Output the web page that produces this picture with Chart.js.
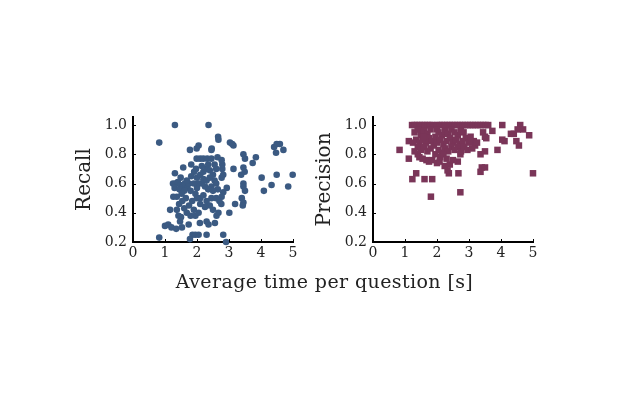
<!DOCTYPE html>
<html>
<head>
<meta charset="utf-8">
<script src="https://cdn.jsdelivr.net/npm/chart.js@4/dist/chart.umd.min.js"></script>
<style>
  body { margin:0; background:#fff; }
  #wrap { position:relative; width:624px; height:400px; overflow:hidden; }
  canvas { position:absolute; top:0; }
  #xtitle { position:absolute; left:0; width:649px; top:270px; text-align:center;
            font-family:"DejaVu Serif", serif; font-size:19px; letter-spacing:0.4px; color:#222; }
</style>
</head>
<body>
<div id="wrap">
  <canvas id="recall" width="312" height="400" style="left:0px;width:312px;height:400px"></canvas>
  <canvas id="precision" width="312" height="400" style="left:240px;width:312px;height:400px"></canvas>
  <div id="xtitle">Average time per question [s]</div>
</div>
<script>
// data
const xTicks = [0, 1, 2, 3, 4, 5];
const yTicks = [0.2, 0.4, 0.6, 0.8, 1.0];

const recallTime = [
  0.82,1.31,2.36,0.82,2.66,2.67,3.03,3.10,3.14,2.46,2.05,1.99,1.78,2.45,2.64,3.45,3.50,3.84,3.74,4.41,
  4.49,4.59,4.70,4.47,3.14,3.45,3.49,3.38,4.02,4.49,4.99,4.09,4.33,4.85,3.45,3.45,3.50,3.40,3.45,3.43,
  3.19,3.01,2.82,2.93,2.77,2.76,2.61,2.67,2.56,2.82,2.91,
  1.99,2.10,2.20,2.32,2.45,2.79,2.79,2.77,2.77,2.82,
  1.82,1.97,1.91,1.57,1.31,1.49,1.82,1.25,1.33,1.40,1.48,1.55,1.62,1.70,1.30,1.45,1.60,1.75,1.68,1.52,
  1.65,1.37,1.26,1.44,1.54,1.16,1.37,1.42,1.50,1.47,1.74,2.09,1.00,1.10,1.20,1.35,1.53,2.30,2.36,1.86,
  1.95,2.05,2.30,1.78,1.60,1.75,1.85,1.90,1.95,2.05,1.80,1.68,
  2.00,2.10,2.20,2.30,2.40,2.50,2.55,2.45,2.35,2.25,2.15,2.05,2.20,2.30,2.40,2.60,2.65,2.50,2.60,2.55,
  2.35,2.15,2.00,1.95,2.10,2.20,2.30,2.45,2.60,2.40,2.25,2.10,1.90,1.80,2.00,2.70,2.50
];
const recallValue = [
  0.88,1.00,1.00,0.23,0.92,0.90,0.88,0.87,0.86,0.84,0.86,0.84,0.83,0.83,0.78,0.80,0.77,0.78,0.74,0.85,
  0.87,0.87,0.83,0.81,0.70,0.71,0.68,0.66,0.64,0.66,0.66,0.55,0.59,0.58,0.60,0.58,0.55,0.50,0.47,0.45,
  0.46,0.40,0.54,0.57,0.51,0.46,0.38,0.40,0.33,0.25,0.20,
  0.77,0.77,0.77,0.77,0.77,0.73,0.70,0.76,0.64,0.66,
  0.73,0.70,0.68,0.71,0.67,0.64,0.65,0.60,0.60,0.61,0.59,0.58,0.60,0.57,0.57,0.56,0.55,0.60,0.62,0.53,
  0.50,0.51,0.51,0.46,0.48,0.42,0.42,0.38,0.37,0.34,0.32,0.33,0.31,0.32,0.30,0.29,0.30,0.34,0.32,0.25,
  0.25,0.25,0.25,0.22,0.43,0.45,0.48,0.42,0.38,0.40,0.38,0.40,
  0.64,0.66,0.68,0.70,0.69,0.66,0.62,0.58,0.56,0.58,0.60,0.60,0.63,0.62,0.64,0.60,0.56,0.55,0.70,0.73,
  0.73,0.72,0.57,0.53,0.50,0.52,0.48,0.50,0.50,0.45,0.44,0.46,0.60,0.55,0.50,0.48,0.42
];

const precisionTime = [
  1.22,1.30,1.38,1.46,1.54,1.62,1.70,1.78,1.86,2.00,2.08,2.16,2.24,2.32,2.40,2.48,2.56,2.64,2.72,2.80,
  2.88,2.96,3.04,3.12,3.20,3.28,3.36,3.44,3.52,3.60,4.04,4.60,
  0.83,1.12,1.12,1.35,1.23,1.61,1.85,1.81,2.37,2.33,2.67,2.73,2.65,2.73,3.36,3.50,3.36,3.40,3.50,5.00,
  3.89,4.11,4.04,4.31,4.40,4.48,4.56,4.52,4.69,4.88,3.73,3.44,3.50,3.54,3.15,3.19,3.25,2.83,
  1.67,1.75,1.85,2.00,2.08,2.24,2.40,2.50,1.40,1.45,1.55,1.30,
  1.30,1.40,1.50,1.60,1.70,1.80,1.35,1.45,1.55,1.65,1.75,1.85,1.40,1.50,1.60,1.70,1.80,1.90,1.95,2.05,
  2.15,2.25,2.35,2.45,2.55,2.65,2.75,2.00,2.10,2.20,2.30,2.40,2.50,2.60,2.70,2.80,2.90,3.00,3.05,2.05,
  2.15,2.25,2.35,2.45,2.55,2.65,2.75,2.85,2.95,2.10,2.20,2.30,1.95,1.58,2.00,3.10,1.25
];
const precisionValue = [
  1.00,1.00,1.00,1.00,1.00,1.00,1.00,1.00,1.00,1.00,1.00,1.00,1.00,1.00,1.00,1.00,1.00,1.00,1.00,1.00,
  1.00,1.00,1.00,1.00,1.00,1.00,1.00,1.00,1.00,1.00,1.00,1.00,
  0.83,0.89,0.77,0.67,0.63,0.63,0.63,0.51,0.67,0.69,0.67,0.54,0.75,0.80,0.80,0.82,0.68,0.71,0.71,0.67,
  0.83,0.89,0.90,0.94,0.94,0.89,0.86,0.97,0.97,0.93,0.96,0.95,0.92,0.91,0.89,0.86,0.88,0.95,
  0.76,0.75,0.76,0.74,0.75,0.72,0.73,0.76,0.80,0.78,0.77,0.82,
  0.95,0.97,0.93,0.96,0.94,0.97,0.90,0.88,0.90,0.88,0.91,0.89,0.85,0.83,0.85,0.82,0.84,0.86,0.92,0.95,
  0.93,0.96,0.94,0.97,0.95,0.93,0.96,0.88,0.90,0.87,0.89,0.91,0.88,0.90,0.87,0.89,0.91,0.88,0.92,0.83,
  0.81,0.84,0.82,0.85,0.83,0.85,0.82,0.85,0.83,0.78,0.80,0.77,0.80,0.92,0.97,0.84,0.88
];

const FONT = "'DejaVu Serif', serif";

// small inward tick marks like the original
const innerTicks = {
  id: "innerTicks",
  afterDraw(chart){
    const {ctx, chartArea, scales} = chart;
    ctx.save();
    ctx.strokeStyle = "#000";
    ctx.lineWidth = 1;
    ctx.beginPath();
    scales.x.ticks.forEach(t=>{
      if(t.value===0) return;
      let px = Math.round(scales.x.getPixelForValue(t.value))+0.5;
      ctx.moveTo(px, chartArea.bottom);
      ctx.lineTo(px, chartArea.bottom-3);
    });
    scales.y.ticks.forEach(t=>{
      if(t.value<=0.2) return;
      let py = Math.round(scales.y.getPixelForValue(t.value))+0.5;
      ctx.moveTo(chartArea.left, py);
      ctx.lineTo(chartArea.left+3, py);
    });
    ctx.stroke();
    ctx.restore();
  }
};

function makeChart(id, xs, ys, title, color, style, radius){
  let pts = xs.map((x,i)=>({x:x, y:ys[i]}));
  return new Chart(document.getElementById(id), {
    type: "scatter",
    data: { datasets: [{ data: pts, backgroundColor: color, borderColor: color, borderWidth: 0,
                         pointStyle: style, pointRadius: radius, pointHoverRadius: radius, clip: false }] },
    options: {
      responsive: false,
      animation: false,
      events: [],
      layout: { padding: { left: 73, top: 117, right: 19, bottom: 0 } },
      plugins: { legend: { display: false }, tooltip: { enabled: false } },
      scales: {
        x: {
          type: "linear", min: 0, max: 5,
          afterBuildTicks: s => { s.ticks = xTicks.map(v=>({value:v})); },
          afterFit: s => { s.height = 158; },
          grid: { display: true, drawOnChartArea: false, drawTicks: false },
          border: { color: "#000", width: 2 },
          ticks: { color: "#222", padding: 3, font: { family: FONT, size: 14 }, maxRotation: 0 }
        },
        y: {
          type: "linear", min: 0.2, max: 1.055,
          afterBuildTicks: s => { s.ticks = yTicks.map(v=>({value:v})); },
          afterFit: s => { s.width = 60; },
          grid: { display: true, drawOnChartArea: false, drawTicks: false },
          border: { color: "#000", width: 2 },
          title: { display: true, text: title, color: "#222", padding: { top: 0, bottom: 0 },
                   font: { family: FONT, size: 20 } },
          ticks: { color: "#222", padding: 6, font: { family: FONT, size: 14 },
                   callback: v => v.toFixed(1) }
        }
      }
    },
    plugins: [innerTicks]
  });
}

makeChart("recall", recallTime, recallValue, "Recall", "#3b5a82", "circle", 3.3);
makeChart("precision", precisionTime, precisionValue, "Precision", "#7a3558", "rect", 4.6);
</script>
</body>
</html>
